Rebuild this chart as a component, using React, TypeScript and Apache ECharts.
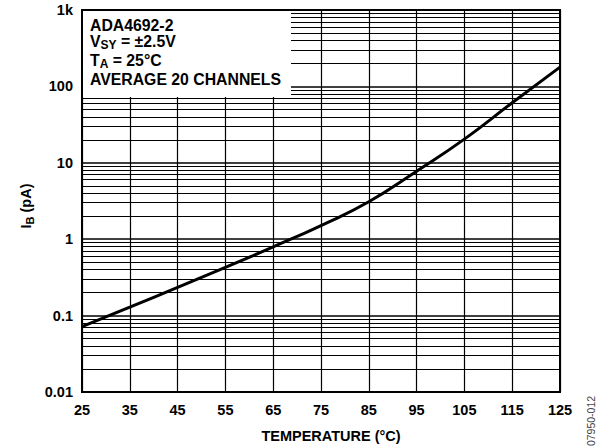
import React, { useEffect, useRef } from "react";
import * as echarts from "echarts";

const temperatures = [25, 35, 45, 55, 65, 75, 85, 95, 105, 115, 125];
const biasCurrent = [0.0716, 0.129, 0.234, 0.427, 0.794, 1.51, 3.09, 7.76, 20.4, 61, 179];
const xTickStart = 25;
const decades = [0.01, 0.1, 1, 10, 100];
const minorMantissas = [2, 3, 4, 5, 6, 7, 8, 9];
const legendLines = [
  "{m|ADA4692-2}",
  "{m|V}{s|SY}{m| = ±2.5V}",
  "{m|T}{s|A}{m| = 25°C}",
  "{m|AVERAGE 20 CHANNELS}",
];

const FONT = "'Liberation Sans', Arial, Helvetica, sans-serif";

export default function App() {
  const ref = useRef<HTMLDivElement>(null);
  useEffect(() => {
    if (!ref.current) return;
    const chart = echarts.init(ref.current, undefined, { renderer: "svg" });
    const minorValues: number[] = [];
    decades.forEach((d) => minorMantissas.forEach((m) => minorValues.push(+(d * m).toPrecision(3))));
    const rich = {
      m: { fontSize: 15.8, fontWeight: "bold", fontFamily: FONT, color: "#000", verticalAlign: "top" },
      s: { fontSize: 12, fontWeight: "bold", fontFamily: FONT, color: "#000", verticalAlign: "top", padding: [6, 0, 0, 0] },
    };
    const legendTops = [17, 33, 52, 71];
    chart.setOption({
      animation: false,
      grid: { left: 82, right: 36, top: 10, bottom: 56, show: true, borderColor: "#000", borderWidth: 2, backgroundColor: "#fff" },
      xAxis: {
        type: "value",
        min: 0,
        max: 100,
        interval: 10,
        axisLine: { show: true, lineStyle: { color: "#000", width: 2 } },
        axisTick: { show: false },
        splitLine: { show: true, lineStyle: { color: "#000", width: 1.2 } },
        axisLabel: {
          margin: 10,
          color: "#000",
          fontSize: 14.5,
          fontWeight: "bold",
          fontFamily: FONT,
          formatter: (v: number) => String(v + xTickStart),
        },
      },
      yAxis: {
        type: "log",
        logBase: 10,
        min: 0.01,
        max: 1000,
        axisLine: { show: true, lineStyle: { color: "#000", width: 2 } },
        axisTick: { show: false },
        splitLine: { show: true, lineStyle: { color: "#000", width: 1.6 } },
        axisLabel: {
          margin: 9,
          color: "#000",
          fontSize: 14.5,
          fontWeight: "bold",
          fontFamily: FONT,
          formatter: (v: number) => (v >= 1000 ? "1k" : String(+v.toPrecision(3))),
        },
      },
      series: [
        {
          type: "line",
          data: temperatures.map((t, i) => [t - xTickStart, biasCurrent[i]]),
          smooth: true,
          symbol: "none",
          lineStyle: { color: "#000", width: 3 },
          z: 10,
          markLine: {
            silent: true,
            symbol: ["none", "none"],
            label: { show: false },
            lineStyle: { color: "#000", width: 1, type: "solid" },
            emphasis: { disabled: true },
            data: minorValues.map((v) => ({ yAxis: v })),
            z: 3,
          },
        },
      ],
      graphic: [
        {
          type: "rect",
          z: 50,
          shape: { x: 83, y: 11, width: 208, height: 86 },
          style: { fill: "#fff" },
        },
        ...legendLines.map((t, i) => ({
          type: "text",
          z: 60,
          x: 90,
          y: legendTops[i],
          style: { text: t, rich, verticalAlign: "top", align: "left" },
        })),
        {
          type: "text",
          z: 60,
          x: 27,
          y: 206,
          rotation: Math.PI / 2,
          style: {
            text: "{m|I}{s|B}{m| (pA)}",
            rich: {
              m: { fontSize: 14.5, fontWeight: "bold", fontFamily: FONT, color: "#000", verticalAlign: "top" },
              s: { fontSize: 11, fontWeight: "bold", fontFamily: FONT, color: "#000", verticalAlign: "top", padding: [6, 0, 0, 0] },
            },
            align: "center",
            verticalAlign: "middle",
          },
        },
        {
          type: "text",
          z: 60,
          x: 331,
          y: 436,
          style: {
            text: "TEMPERATURE (°C)",
            fontSize: 14.5,
            fontWeight: "bold",
            fontFamily: FONT,
            fill: "#000",
            align: "center",
            verticalAlign: "middle",
          },
        },
        {
          type: "text",
          z: 60,
          x: 591,
          y: 421,
          rotation: Math.PI / 2,
          style: {
            text: "07950-012",
            fontSize: 10.5,
            fontFamily: FONT,
            fill: "#444",
            align: "center",
            verticalAlign: "middle",
          },
        },
      ],
    });
    return () => chart.dispose();
  }, []);
  return <div ref={ref} style={{ width: 596, height: 448, position: "absolute", left: 0, top: 0 }} />;
}
